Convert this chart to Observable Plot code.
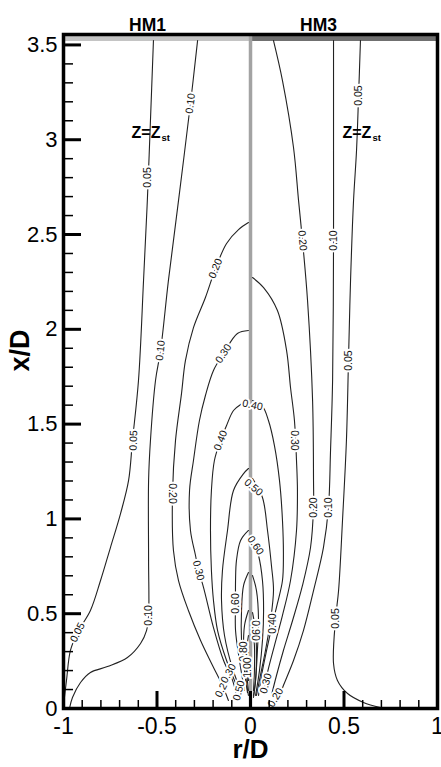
<!DOCTYPE html>
<html>
<head>
<meta charset="utf-8">
<script src="https://cdn.jsdelivr.net/npm/d3@7"></script>
<script src="https://cdn.jsdelivr.net/npm/@observablehq/plot@0.6"></script>
<style>
  html, body { margin: 0; padding: 0; background: #fff; }
  #chart svg { display: block; }
</style>
</head>
<body>
<div id="chart"></div>
<script>
// Mean mixture-fraction contours: HM1 flame on the left half (r < 0),
// HM3 flame on the right half (r > 0). Each contour is a list of [r/D, x/D].

// ---- HM1 (left half) ----
const hm1_005 = [[-0.519,3.523],[-0.535,3.101],[-0.551,2.695],[-0.572,2.257],[-0.599,1.730],[-0.631,1.414],[-0.652,1.203],[-0.695,1.028],[-0.749,0.849],[-0.802,0.675],[-0.856,0.517],[-0.925,0.401],[-0.963,0.306],[-0.984,0.148],[-1.0,0.016]];
const hm1_010 = [[-0.283,3.523],[-0.321,3.191],[-0.385,2.679],[-0.439,2.257],[-0.481,1.888],[-0.508,1.730],[-0.535,1.414],[-0.545,1.203],[-0.545,0.781],[-0.545,0.491],[-0.556,0.411],[-0.588,0.343],[-0.658,0.269],[-0.765,0.221],[-0.856,0.190],[-0.909,0.137],[-0.952,0.058],[-0.968,0]];
const hm1_020 = [[-0.011,2.563],[-0.064,2.526],[-0.128,2.453],[-0.187,2.321],[-0.241,2.168],[-0.305,2.009],[-0.348,1.835],[-0.369,1.661],[-0.401,1.414],[-0.417,1.134],[-0.412,0.833],[-0.385,0.675],[-0.332,0.517],[-0.267,0.359],[-0.203,0.227],[-0.150,0.121],[-0.118,0.042]];
const hm1_030 = [[-0.011,1.994],[-0.070,1.978],[-0.144,1.872],[-0.198,1.783],[-0.241,1.651],[-0.273,1.519],[-0.305,1.308],[-0.326,1.150],[-0.321,0.939],[-0.294,0.807],[-0.278,0.728],[-0.251,0.638],[-0.198,0.427],[-0.144,0.253],[-0.096,0.148],[-0.075,0.069]];
const hm1_040 = [[-0.011,1.624],[-0.053,1.603],[-0.091,1.572],[-0.128,1.493],[-0.160,1.414],[-0.193,1.308],[-0.209,1.150],[-0.214,0.939],[-0.209,0.728],[-0.198,0.570],[-0.176,0.411],[-0.128,0.253],[-0.075,0.121],[-0.053,0.053]];
const hm1_050 = [[-0.011,1.266],[-0.037,1.239],[-0.091,1.150],[-0.123,0.939],[-0.150,0.728],[-0.155,0.570],[-0.139,0.385],[-0.096,0.211],[-0.048,0.084]];
const hm1_060 = [[-0.011,0.939],[-0.053,0.886],[-0.075,0.781],[-0.080,0.675],[-0.080,0.554],[-0.080,0.411],[-0.059,0.253],[-0.032,0.095]];
const hm1_070 = [[-0.011,0.717],[-0.037,0.649],[-0.048,0.517],[-0.048,0.359],[-0.032,0.200],[-0.016,0.084]];
const hm1_080 = [[-0.011,0.517],[-0.032,0.438],[-0.037,0.306],[-0.027,0.174],[-0.011,0.069]];
const hm1_090 = [[-0.011,0.385],[-0.021,0.306],[-0.021,0.200],[-0.011,0.095]];
const hm1_100 = [[-0.011,0.295],[-0.016,0.227],[-0.011,0.148]];

// ---- HM3 (right half) ----
const hm3_005 = [[0.588,3.523],[0.578,3.233],[0.567,2.943],[0.551,2.679],[0.535,2.257],[0.524,1.835],[0.513,1.414],[0.492,0.992],[0.471,0.622],[0.455,0.475],[0.444,0.237],[0.465,0.148],[0.519,0.079],[0.604,0.032],[0.695,0.005]];
const hm3_010 = [[0.444,3.523],[0.444,2.943],[0.444,2.468],[0.439,1.730],[0.428,1.361],[0.417,1.060],[0.390,0.849],[0.337,0.622],[0.283,0.411],[0.230,0.253],[0.176,0.121],[0.144,0.042]];
const hm3_020 = [[0.123,3.523],[0.171,3.312],[0.230,2.959],[0.257,2.679],[0.278,2.468],[0.305,2.152],[0.332,1.624],[0.337,1.203],[0.337,1.060],[0.321,0.849],[0.278,0.649],[0.225,0.464],[0.176,0.306],[0.139,0.174],[0.112,0.069]];
const hm3_030 = [[0.011,2.273],[0.070,2.220],[0.144,2.099],[0.193,1.888],[0.214,1.693],[0.235,1.519],[0.246,1.308],[0.251,1.150],[0.246,0.939],[0.214,0.675],[0.171,0.491],[0.128,0.332],[0.091,0.190],[0.070,0.084]];
const hm3_040 = [[0.011,1.624],[0.064,1.593],[0.096,1.519],[0.128,1.387],[0.155,1.203],[0.171,0.992],[0.176,0.807],[0.171,0.675],[0.144,0.554],[0.118,0.448],[0.086,0.306],[0.059,0.174],[0.043,0.069]];
const hm3_050 = [[0.011,1.213],[0.064,1.113],[0.091,0.939],[0.112,0.754],[0.123,0.622],[0.107,0.464],[0.080,0.306],[0.053,0.174],[0.032,0.069]];
const hm3_060 = [[0.011,0.897],[0.043,0.807],[0.064,0.675],[0.070,0.517],[0.064,0.359],[0.048,0.200],[0.027,0.069]];
const hm3_070 = [[0.011,0.701],[0.032,0.622],[0.043,0.464],[0.037,0.306],[0.027,0.148],[0.016,0.058]];
const hm3_080 = [[0.011,0.506],[0.027,0.411],[0.032,0.280],[0.027,0.148],[0.016,0.069]];
const hm3_090 = [[0.011,0.422],[0.021,0.332],[0.021,0.200],[0.016,0.095]];

// Contour labels: [level, r/D, x/D, text angle in degrees]
const hm1Labels = [
  [0.05,-0.551,2.801,-90],[0.10,-0.321,3.191,-83],[0.05,-0.626,1.414,-88],[0.10,-0.481,1.888,-84],
  [0.20,-0.187,2.321,-67],[0.30,-0.144,1.872,-57],[0.40,-0.160,1.414,-68],[0.20,-0.417,1.134,90],
  [0.10,-0.545,0.491,-90],[0.05,-0.925,0.401,-63],[0.30,-0.278,0.728,76],[0.60,-0.080,0.554,-90],
  [0.20,-0.150,0.110,-62],[0.30,-0.118,0.185,-60],[0.50,-0.062,0.095,-75],[0.80,-0.037,0.300,-90],
  [1.00,-0.016,0.216,-90]
];
const hm3Labels = [
  [0.05,0.578,3.233,-90],[0.20,0.278,2.468,85],[0.10,0.444,2.468,-90],[0.05,0.524,1.835,-90],
  [0.40,0.011,1.600,12],[0.30,0.235,1.414,90],[0.50,0.016,1.166,40],[0.20,0.337,1.060,-90],
  [0.10,0.417,1.060,-90],[0.60,0.027,0.860,55],[0.05,0.455,0.475,-90],[0.40,0.118,0.448,-90],
  [0.90,0.027,0.411,90],[0.30,0.082,0.132,-75],[0.20,0.134,0.058,-60]
];

// Panel titles and stoichiometric iso-line tags
const flames = ["HM1", "HM3"];
const flameTitleR = [-0.551, 0.364];
const stoichTagR = [-0.636, 0.492];
const stoichTagX = [3.035, 3.035];

// Axes
const xTicks = [-1, -0.5, 0, 0.5, 1];
const yTicks = [0, 0.5, 1, 1.5, 2, 2.5, 3, 3.5];
const xTickLabels = ["-1", "-0.5", "0", "0.5", "1"];
const yTickLabels = ["0", "0.5", "1", "1.5", "2", "2.5", "3", "3.5"];
const xDomain = [-1, 1];
const yDomain = [0, 3.555];

// ---- build tables ----
const contours = [
  ["HM1", 0.05, hm1_005], ["HM1", 0.10, hm1_010], ["HM1", 0.20, hm1_020], ["HM1", 0.30, hm1_030],
  ["HM1", 0.40, hm1_040], ["HM1", 0.50, hm1_050], ["HM1", 0.60, hm1_060], ["HM1", 0.70, hm1_070],
  ["HM1", 0.80, hm1_080], ["HM1", 0.90, hm1_090], ["HM1", 1.00, hm1_100],
  ["HM3", 0.05, hm3_005], ["HM3", 0.10, hm3_010], ["HM3", 0.20, hm3_020], ["HM3", 0.30, hm3_030],
  ["HM3", 0.40, hm3_040], ["HM3", 0.50, hm3_050], ["HM3", 0.60, hm3_060], ["HM3", 0.70, hm3_070],
  ["HM3", 0.80, hm3_080], ["HM3", 0.90, hm3_090]
];
const lineRows = contours.flatMap(([flame, level, pts]) =>
  pts.map(([r, x]) => ({id: flame + level, r, x})));
const labelRows = [...hm1Labels, ...hm3Labels].map(([level, r, x, angle]) =>
  ({text: d3.format(".2f")(level), r, x, angle}));
const titleRows = flames.map((name, i) => ({name, r: flameTitleR[i]}));
const tagRows = stoichTagR.map((r, i) => ({r, x: stoichTagX[i]}));

const W = 441, H = 767;
const M = {top: 34, right: 4, bottom: 59, left: 63};
const plotW = W - M.left - M.right;
const plotH = H - M.top - M.bottom;
const font = "'Liberation Sans', Arial, Helvetica, sans-serif";

const xMinor = d3.range(-1, 1.0001, 0.1);
const yMinor = d3.range(0, yDomain[1], 0.1);

const chart = Plot.plot({
  width: W,
  height: H,
  marginTop: M.top,
  marginRight: M.right,
  marginBottom: M.bottom,
  marginLeft: M.left,
  style: {fontFamily: font, color: "black", background: "white"},
  x: {domain: xDomain},
  y: {domain: yDomain},
  marks: [
    // grey strip along the top boundary of each half
    Plot.ruleY([yDomain[1]], {x1: -1, x2: 0, stroke: "#c4c4c4", strokeWidth: 5, dy: 4}),
    Plot.ruleY([yDomain[1]], {x1: 0, x2: 1, stroke: "#707070", strokeWidth: 5, dy: 4}),
    // symmetry axis between the two flames
    Plot.ruleX([0], {stroke: "#a3a3a3", strokeWidth: 3.5}),
    // contour lines
    Plot.line(lineRows, {x: "r", y: "x", z: "id", stroke: "#222", strokeWidth: 1.1, curve: "catmull-rom"}),
    // contour level labels
    Plot.text(labelRows, {x: "r", y: "x", text: "text", rotate: "angle", fontSize: 10.5,
      fill: "#111", stroke: "white", strokeWidth: 4}),
    // Z = Z_st tags
    Plot.text(tagRows, {x: "r", y: "x", text: () => "Z=Z", textAnchor: "start", fontSize: 16, fontWeight: "bold", fill: "black"}),
    Plot.text(tagRows, {x: "r", y: "x", text: () => "st", textAnchor: "start", fontSize: 9.5, fontWeight: "bold", fill: "black", dx: 30, dy: 5}),
    // flame titles above the frame
    Plot.text(titleRows, {x: "r", text: "name", frameAnchor: "top", dy: -16, fontSize: 17.5, fontWeight: "bold", fill: "black"}),
    // inward ticks
    Plot.tickY(yMinor, {insetRight: plotW - 10, strokeWidth: 1.5, stroke: "black"}),
    Plot.tickY(yTicks, {insetRight: plotW - 18, strokeWidth: 3, stroke: "black"}),
    Plot.tickX(xMinor, {insetTop: plotH - 8, strokeWidth: 1.5, stroke: "black"}),
    Plot.tickX(xTicks, {insetTop: plotH - 17, strokeWidth: 3, stroke: "black"}),
    // tick labels
    Plot.axisY(yTicks, {tickSize: 0, tickPadding: 6, fontSize: 22, label: null,
      tickFormat: (d) => yTickLabels[yTicks.indexOf(d)]}),
    Plot.axisX(xTicks, {tickSize: 0, tickPadding: 9, fontSize: 23, label: null,
      tickFormat: (d) => xTickLabels[xTicks.indexOf(d)]}),
    // axis titles
    Plot.text(["x/D"], {frameAnchor: "left", rotate: -90, dx: -43, fontSize: 27, fontWeight: "bold", fill: "black"}),
    Plot.text(["r/D"], {frameAnchor: "bottom", dy: 49, fontSize: 26, fontWeight: "bold", fill: "black"}),
    Plot.frame({stroke: "black", strokeWidth: 3.5})
  ]
});
document.getElementById("chart").appendChild(chart);
</script>
</body>
</html>
